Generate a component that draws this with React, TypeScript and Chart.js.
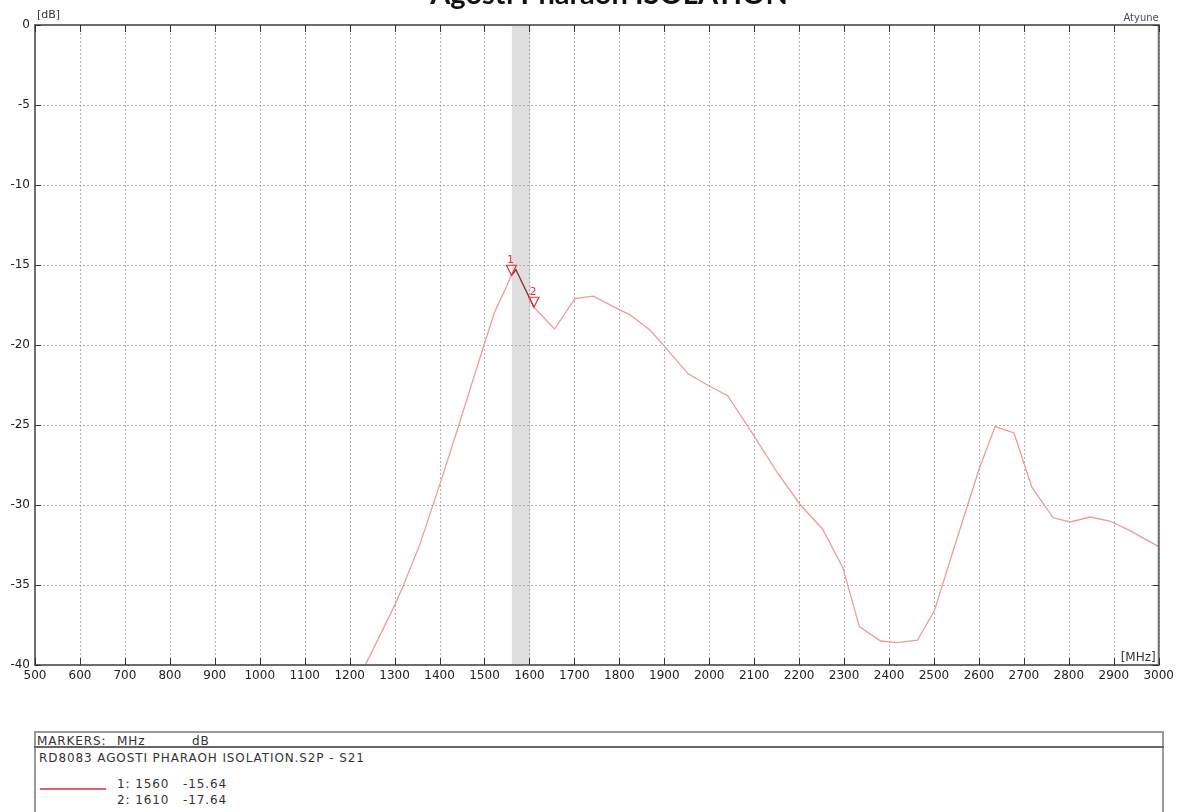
import React, { useEffect, useRef } from "react";
import { Chart, registerables } from "chart.js";

Chart.register(...registerables);

const titleText = "Agosti Pharaoh ISOLATION";
const traceName = "RD8083 AGOSTI PHARAOH ISOLATION.S2P - S21";

const freqMHz = [
  1200, 1298, 1320, 1357, 1402, 1443, 1472, 1499, 1523, 1545, 1560, 1570, 1610,
  1656, 1701, 1742, 1801, 1823, 1868, 1901, 1953, 2000, 2041, 2100, 2152, 2203,
  2252, 2297, 2334, 2381, 2419, 2463, 2501, 2550, 2601, 2636, 2678, 2718, 2765,
  2803, 2847, 2891, 2936, 3000,
];
const s21dB = [
  -42.0, -36.4, -35.0, -32.4, -28.6, -25.0, -22.4, -20.0, -17.9, -16.6, -15.64,
  -15.3, -17.64, -19.0, -17.1, -16.95, -17.8, -18.1, -19.06, -20.1, -21.8, -22.56,
  -23.17, -25.7, -28.0, -30.0, -31.5, -33.9, -37.6, -38.5, -38.6, -38.45, -36.6,
  -32.2, -27.7, -25.1, -25.5, -28.9, -30.8, -31.06, -30.75, -31.0, -31.6, -32.6,
];

const markerIds = ["1", "2"];
const markerFreqMHz = [1560, 1610];
const markerDB = [-15.64, -17.64];
const bandMHz = [1561, 1602];

const xTickLabels = [
  "500", "600", "700", "800", "900", "1000", "1100", "1200", "1300", "1400",
  "1500", "1600", "1700", "1800", "1900", "2000", "2100", "2200", "2300", "2400",
  "2500", "2600", "2700", "2800", "2900", "3000",
];
const yTickLabels = ["0", "-5", "-10", "-15", "-20", "-25", "-30", "-35", "-40"];

const FONT = "'DejaVu Sans', Verdana, sans-serif";

const overlayPlugin = {
  id: "overlay",
  beforeDatasetsDraw(chart: any) {
    const { ctx, chartArea: a, scales } = chart;
    const xs = scales.x;
    const ys = scales.y;
    ctx.save();
    const b1 = xs.getPixelForValue(bandMHz[0]);
    const b2 = xs.getPixelForValue(bandMHz[1]);
    ctx.fillStyle = "#dedede";
    ctx.fillRect(b1, a.top, b2 - b1, a.bottom - a.top);
    ctx.strokeStyle = "#b0b0b0";
    ctx.lineWidth = 1;
    ctx.setLineDash([2, 2]);
    ctx.beginPath();
    xTickLabels.forEach((l) => {
      const px = Math.round(xs.getPixelForValue(Number(l))) + 0.5;
      ctx.moveTo(px, a.top);
      ctx.lineTo(px, a.bottom);
    });
    yTickLabels.forEach((l) => {
      const py = Math.round(ys.getPixelForValue(Number(l))) + 0.5;
      ctx.moveTo(a.left, py);
      ctx.lineTo(a.right, py);
    });
    ctx.stroke();
    ctx.restore();
  },
  afterDatasetsDraw(chart: any) {
    const { ctx, chartArea: a, scales } = chart;
    const xs = scales.x;
    const ys = scales.y;
    ctx.save();
    ctx.strokeStyle = "#6c6c6c";
    ctx.lineWidth = 2;
    ctx.strokeRect(a.left, a.top, a.right - a.left, a.bottom - a.top);
    ctx.strokeStyle = "#333";
    ctx.lineWidth = 1;
    ctx.beginPath();
    xTickLabels.forEach((l) => {
      const px = Math.round(xs.getPixelForValue(Number(l))) + 0.5;
      ctx.moveTo(px, a.top);
      ctx.lineTo(px, a.top + 7);
      ctx.moveTo(px, a.bottom);
      ctx.lineTo(px, a.bottom - 7);
    });
    yTickLabels.forEach((l) => {
      const py = Math.round(ys.getPixelForValue(Number(l))) + 0.5;
      ctx.moveTo(a.left, py);
      ctx.lineTo(a.left + 6, py);
      ctx.moveTo(a.right, py);
      ctx.lineTo(a.right - 6, py);
    });
    ctx.stroke();
    // markers
    ctx.strokeStyle = "#e0303a";
    ctx.fillStyle = "#e0303a";
    ctx.lineWidth = 1.2;
    ctx.font = `11px ${FONT}`;
    ctx.textAlign = "center";
    ctx.textBaseline = "alphabetic";
    markerIds.forEach((id, i) => {
      const px = xs.getPixelForValue(markerFreqMHz[i]);
      const py = ys.getPixelForValue(markerDB[i]);
      ctx.beginPath();
      ctx.moveTo(px - 5, py - 10);
      ctx.lineTo(px + 5, py - 10);
      ctx.lineTo(px, py);
      ctx.closePath();
      ctx.stroke();
      ctx.fillText(id, px - 1, py - 12);
    });
    ctx.fillStyle = "#333";
    ctx.textAlign = "left";
    ctx.font = `11px ${FONT}`;
    ctx.fillText("[dB]", a.left + 2, a.top - 7);
    ctx.textAlign = "right";
    ctx.font = `12px ${FONT}`;
    ctx.fillText("[MHz]", a.right - 3, a.bottom - 4);
    ctx.fillStyle = "#4b4560";
    ctx.font = `10px ${FONT}`;
    ctx.fillText("Atyune", a.right, a.top - 4);
    ctx.restore();
  },
};

export default function App() {
  const canvasRef = useRef<HTMLCanvasElement | null>(null);

  useEffect(() => {
    if (!canvasRef.current) return;
    const points = freqMHz.map((f, i) => ({ x: f, y: s21dB[i] }));
    const highlight = points.filter(
      (p) => p.x >= markerFreqMHz[0] && p.x <= markerFreqMHz[1]
    );
    const chart = new Chart(canvasRef.current, {
      type: "line",
      data: {
        datasets: [
          {
            label: traceName,
            data: highlight,
            borderColor: "#8a3a3a",
            borderWidth: 1.3,
            pointRadius: 0,
            tension: 0,
          },
          {
            label: traceName,
            data: points,
            borderColor: "#ef9a9a",
            borderWidth: 1.3,
            pointRadius: 0,
            tension: 0,
          },
        ],
      },
      options: {
        animation: false,
        responsive: false,
        layout: { padding: { top: 25, right: 15, left: 0, bottom: 0 } },
        plugins: {
          legend: { display: false },
          tooltip: { enabled: false },
          title: { display: false },
        },
        scales: {
          x: {
            type: "linear",
            min: 500,
            max: 3000,
            grid: { display: false, drawTicks: false },
            border: { display: false },
            afterBuildTicks: (s: any) => {
              s.ticks = xTickLabels.map((l) => ({ value: Number(l) }));
            },
            afterFit: (s: any) => {
              s.height = 35;
            },
            ticks: {
              autoSkip: false,
              maxRotation: 0,
              padding: 4,
              color: "#222",
              font: { family: FONT, size: 12 },
              callback: (v: any) => String(v),
            },
          },
          y: {
            type: "linear",
            min: -40,
            max: 0,
            grid: { display: false, drawTicks: false },
            border: { display: false },
            afterBuildTicks: (s: any) => {
              s.ticks = yTickLabels.map((l) => ({ value: Number(l) }));
            },
            afterFit: (s: any) => {
              s.width = 35;
            },
            ticks: {
              padding: 5,
              color: "#222",
              font: { family: FONT, size: 12 },
              callback: (v: any) => String(v),
            },
          },
        },
      },
      plugins: [overlayPlugin],
    });
    return () => chart.destroy();
  }, []);

  const txt: React.CSSProperties = {
    position: "absolute",
    fontFamily: FONT,
    fontSize: 12,
    letterSpacing: "0.9px",
    lineHeight: "14px",
    color: "#333",
    whiteSpace: "pre",
  };

  return (
    <div
      style={{
        position: "fixed",
        left: 0,
        top: 0,
        width: 1178,
        height: 812,
        background: "#fff",
        overflow: "hidden",
      }}
    >
      <canvas
        ref={canvasRef}
        width={1178}
        height={700}
        style={{ position: "absolute", left: 0, top: 0 }}
      />
      <div
        style={{
          position: "absolute",
          left: 20,
          top: -22,
          width: 1178,
          textAlign: "center",
          fontFamily: "Lato, 'Open Sans', sans-serif",
          fontWeight: 700,
          fontSize: 29,
          lineHeight: "29px",
          color: "#111",
        }}
      >
        {titleText}
      </div>
      <div
        style={{
          position: "absolute",
          left: 34,
          top: 731,
          width: 1130,
          height: 100,
          boxSizing: "border-box",
          border: "2px solid #9a9a9a",
        }}
      />
      <div
        style={{
          position: "absolute",
          left: 34,
          top: 746,
          width: 1130,
          height: 2,
          background: "#666",
        }}
      />
      <span style={{ ...txt, left: 37, top: 734 }}>MARKERS:</span>
      <span style={{ ...txt, left: 117, top: 734 }}>MHz</span>
      <span style={{ ...txt, left: 192, top: 734 }}>dB</span>
      <span style={{ ...txt, left: 39, top: 751 }}>{traceName}</span>
      <div
        style={{
          position: "absolute",
          left: 40,
          top: 788,
          width: 66,
          height: 2,
          background: "#e06070",
        }}
      />
      <span style={{ ...txt, left: 117, top: 777 }}>{`1: ${markerFreqMHz[0]}`}</span>
      <span style={{ ...txt, left: 183, top: 777 }}>{markerDB[0].toFixed(2)}</span>
      <span style={{ ...txt, left: 117, top: 793 }}>{`2: ${markerFreqMHz[1]}`}</span>
      <span style={{ ...txt, left: 183, top: 793 }}>{markerDB[1].toFixed(2)}</span>
    </div>
  );
}
